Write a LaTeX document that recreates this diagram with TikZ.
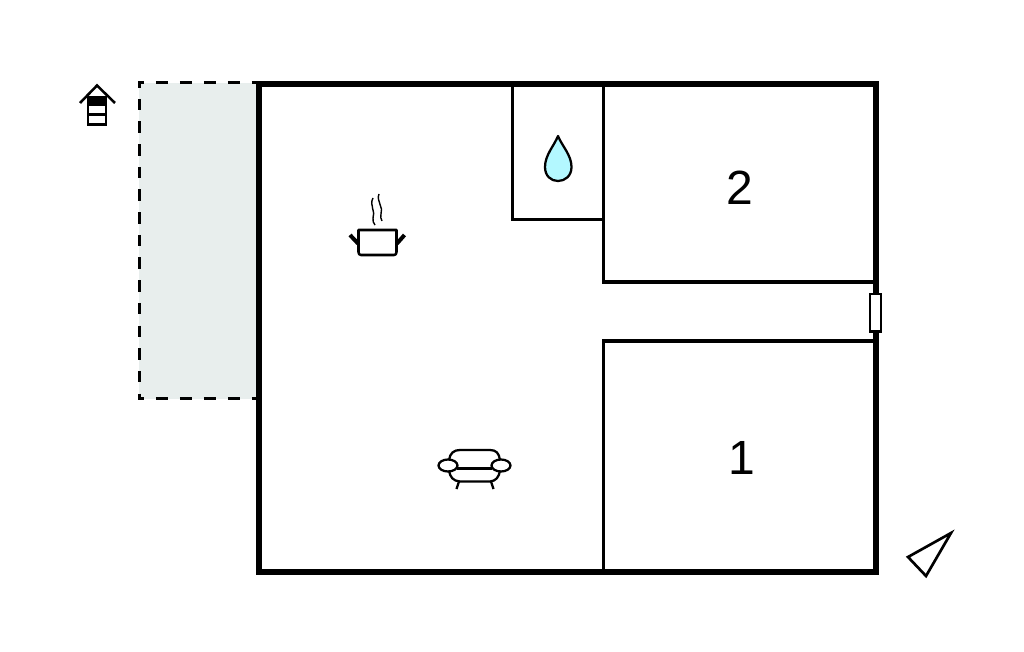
\documentclass[tikz,border=0pt]{standalone}
\usepackage{fontspec}
\setmainfont{Liberation Sans}
\definecolor{terrace}{HTML}{E8EEED}
\definecolor{water}{HTML}{B3F8FF}
\tikzset{
  wall/.style={draw=black,line width=4.2pt,line join=miter},
  inner/.style={draw=black,line width=2.3pt,line cap=butt},
  icon/.style={draw=black,line width=1.7pt,line join=round},
  dashh/.style={draw=black,line width=2.2pt,dash pattern=on 9.4pt off 8.6pt},
  dashv/.style={draw=black,line width=2.2pt,dash pattern=on 8.7pt off 8.3pt},
  roomlabel/.style={font=\fontsize{36}{36}\selectfont,inner sep=0pt,text=black}
}
\begin{document}
\begin{tikzpicture}[x=0.75pt,y=-0.75pt]
\useasboundingbox (0,0) rectangle (1024,652);
\fill[white] (0,0) rectangle (1024,652);
% terrace
\fill[terrace] (139,83) rectangle (257,399);
\draw[dashh,dash phase=4.6pt] (138,398.5) -- (257,398.5);
\draw[dashh,dash phase=4.6pt] (138,82.5) -- (257,82.5);
\draw[dashv,dash phase=4.0pt] (139.5,81.5) -- (139.5,399.5);
% interior walls
\draw[inner] (512.3,84) -- (512.3,219.8) -- (603.5,219.8);
\draw[inner] (603.5,84) -- (603.5,282) -- (876,282);
\draw[inner] (603.5,572) -- (603.5,341) -- (876,341);
% outer wall
\draw[wall] (259,84) rectangle (876,572);
% window
\draw[draw=black,fill=white,line width=1.8pt] (870,294) rectangle (881,331.5);
% labels
\node[roomlabel] (two) at (740,188) {2};
\node[roomlabel] (one) at (741.5,458) {1};
% water drop
\draw[icon,fill=water] (558,136)
  .. controls (554,146) and (545,155) .. (545,167)
  .. controls (545,176) and (551,181) .. (558,181)
  .. controls (565,181) and (571.5,176) .. (571.5,167)
  .. controls (571.5,155) and (562,146) .. (558,136) -- cycle;
% pot
\draw[icon,line width=1.9pt] (358.5,230) -- (396.5,230) -- (396.5,252) .. controls (396.5,254) and (395.5,255) .. (394,255) -- (361,255) .. controls (359.5,255) and (358.5,254) .. (358.5,252) -- cycle;
\draw[black,line width=3pt] (358,243.5) -- (350,235);
\draw[black,line width=3pt] (397,243.5) -- (404.5,235);
\draw[black,line width=1.05pt] (373,198) .. controls (369,205) and (376,212) .. (373,218) .. controls (372,221) and (374,223) .. (375,225);
\draw[black,line width=1.05pt] (379,194) .. controls (376,201) and (384,208) .. (381,214) .. controls (380,216) and (381,219) .. (382,221);
% sofa
\draw[icon] (449,460) .. controls (450,453) and (454,450) .. (460,450) -- (490,450) .. controls (496,450) and (499,453) .. (500,460);
\draw[icon] (457,468.5) -- (492,468.5);
\draw[icon] (449,470.5) .. controls (450,477) and (453,481) .. (460,481.5) -- (490,481.5) .. controls (496,481) and (499,477) .. (500,470.5);
\draw[icon] (459,481.5) -- (456.5,489);
\draw[icon] (491,481.5) -- (493.5,489);
\draw[icon] (448,465.5) ellipse [x radius=9.5,y radius=6];
\draw[icon] (501,465.5) ellipse [x radius=9.5,y radius=6];
% house icon
\draw[black,line width=1.9pt,line join=miter] (80,103) -- (97,85.5) -- (115,103);
\fill[black] (87,97) rectangle (107,106);
\draw[black,line width=2pt] (88,97) rectangle (106,124.5);
\draw[black,line width=1.7pt] (88,114.5) -- (106,114.5);
% north arrow
\draw[black,line width=2pt,line join=miter] (951,533) -- (908,557) -- (926,576) -- cycle;
\end{tikzpicture}
\end{document}
